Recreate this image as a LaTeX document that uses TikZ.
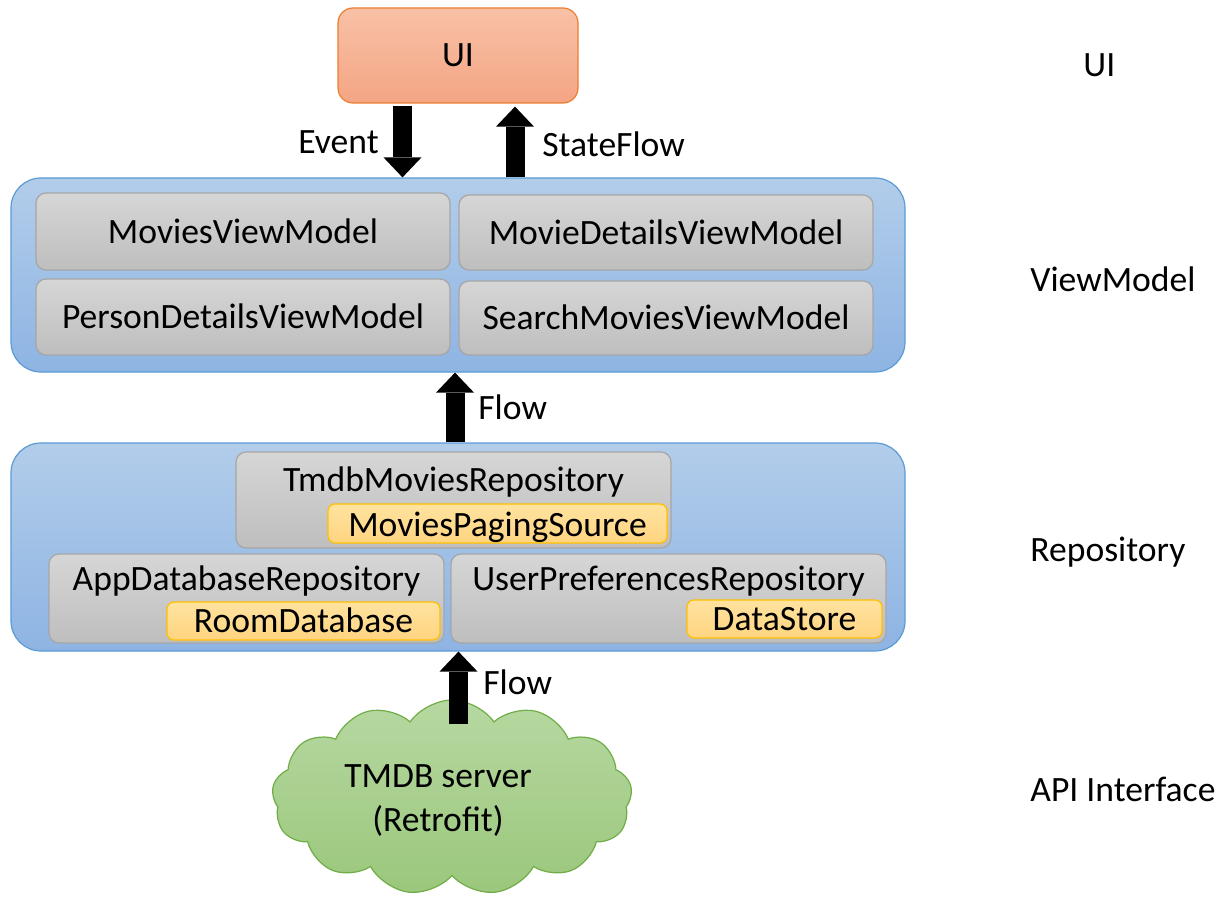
\documentclass[tikz,border=0pt]{standalone}
\usepackage{fontspec}
\setmainfont{Carlito}
\usetikzlibrary{arrows.meta,fit,shapes.symbols,shadings}
\definecolor{uiT}{RGB}{248,193,167}
\definecolor{uiB}{RGB}{244,165,131}
\definecolor{uiD}{RGB}{237,125,49}
\definecolor{lyT}{RGB}{178,205,234}
\definecolor{lyB}{RGB}{142,180,227}
\definecolor{lyD}{RGB}{91,155,213}
\definecolor{gyT}{RGB}{214,214,214}
\definecolor{gyB}{RGB}{190,190,190}
\definecolor{gyD}{RGB}{166,166,166}
\definecolor{ywT}{RGB}{255,227,160}
\definecolor{ywB}{RGB}{255,212,128}
\definecolor{ywD}{RGB}{255,192,0}
\definecolor{clT}{RGB}{182,216,161}
\definecolor{clB}{RGB}{155,199,124}
\definecolor{clD}{RGB}{112,173,71}
\begin{document}
\begin{tikzpicture}[x=0.5pt,y=-0.5pt,
  every node/.style={font=\fontsize{17.8pt}{22pt}\selectfont},
  ctext/.style={text height=11.5pt, text depth=0pt, inner sep=0pt},
  boxbase/.style={inner sep=0pt, line width=0.6pt},
  uibox/.style={boxbase, draw=uiD, top color=uiT, bottom color=uiB, rounded corners=7.5pt},
  layer/.style={boxbase, draw=lyD, top color=lyT, bottom color=lyB, rounded corners=15pt},
  gbox/.style={boxbase, draw=gyD, top color=gyT, bottom color=gyB, rounded corners=5pt},
  ybox/.style={boxbase, draw=ywD, top color=ywT, bottom color=ywB, rounded corners=3.5pt},
  lbl/.style={ctext},
  side/.style={anchor=base west, inner sep=0pt},
  cloudnode/.style={cloud, cloud puffs=13, cloud puff arc=110, aspect=1.85, minimum width=180pt, minimum height=97.5pt, inner sep=0pt, draw=clD, line width=0.6pt, top color=clT, bottom color=clB},
  bigarrow/.style={line width=9.5pt, black, -{Triangle[width=19pt,length=10pt,line width=0pt]}}
]
\useasboundingbox (0,0) rectangle (1222,899);

% UI
\node[uibox, fit={(338,8)(578,103)}] (ui) {};
\node[lbl] (uiL) at (ui.center) {UI};

% ViewModel layer
\node[layer, fit={(11,178)(905,372)}] (vm) {};
\node[gbox, fit={(36,193)(450,270)}] (mvm) {};
\node[lbl] (mvmL) at (mvm.center) {MoviesViewModel};
\node[gbox, fit={(459,195)(873,270)}] (mdvm) {};
\node[lbl] (mdvmL) at (mdvm.center) {MovieDetailsViewModel};
\node[gbox, fit={(36,279)(450,355)}] (pdvm) {};
\node[lbl] (pdvmL) at (pdvm.center) {PersonDetailsViewModel};
\node[gbox, fit={(459,281)(873,355)}] (smvm) {};
\node[lbl] (smvmL) at (smvm.center) {SearchMoviesViewModel};

% Repository layer
\node[layer, fit={(11,443)(905,651)}] (repo) {};
\node[gbox, fit={(236,452)(671,548)}] (tmdb) {};
\node[lbl] (tmdbL) at (453.5,480) {TmdbMoviesRepository};
\node[ybox, fit={(328,504)(667,543)}] (paging) {};
\node[lbl] (pagingL) at ([yshift=-0.7pt]paging.center) {MoviesPagingSource};
\node[gbox, fit={(49,554)(444,643)}] (appdb) {};
\node[lbl] (appdbL) at (246.5,579) {AppDatabaseRepository};
\node[ybox, fit={(167,602)(440,640)}] (room) {};
\node[lbl] (roomL) at (room.center) {RoomDatabase};
\node[gbox, fit={(451,554)(886,643)}] (upref) {};
\node[lbl] (uprefL) at (668.5,579) {UserPreferencesRepository};
\node[ybox, fit={(687,600)(882,638)}] (ds) {};
\node[lbl] (dsL) at (ds.center) {DataStore};

% API cloud
\node[cloudnode] (api) at (452,797.5) {};
\node[align=center, inner sep=0pt] (apiL) at (438,801) {TMDB server\\(Retrofit)};

% side labels
\node[side] (sUI) at (1083,76.5) {UI};
\node[side] (sVM) at (1030,291.5) {ViewModel};
\node[side] (sRepo) at (1030,561.5) {Repository};
\node[side] (sAPI) at (1030,801.5) {API Interface};

% arrows
\coordinate (ex) at (402.5,0);
\coordinate (sx) at (515,0);
\coordinate (fx) at (455,0);
\coordinate (cx) at (458.5,724);
\draw[bigarrow] ([yshift=-1pt]ui.south -| ex) -- (vm.north -| ex);
\draw[bigarrow] (vm.north -| sx) -- ([yshift=-1.5pt]ui.south -| sx);
\draw[bigarrow] (repo.north -| fx) -- (vm.south -| fx);
\draw[bigarrow] (cx) -- (repo.south -| cx);

% arrow labels
\node[side] (lEvent) at (298,153.5) {Event};
\node[side] (lState) at (542,156.5) {StateFlow};
\node[side] (lFlow1) at (478,419.5) {Flow};
\node[side] (lFlow2) at (483,694.5) {Flow};
\end{tikzpicture}
\end{document}
